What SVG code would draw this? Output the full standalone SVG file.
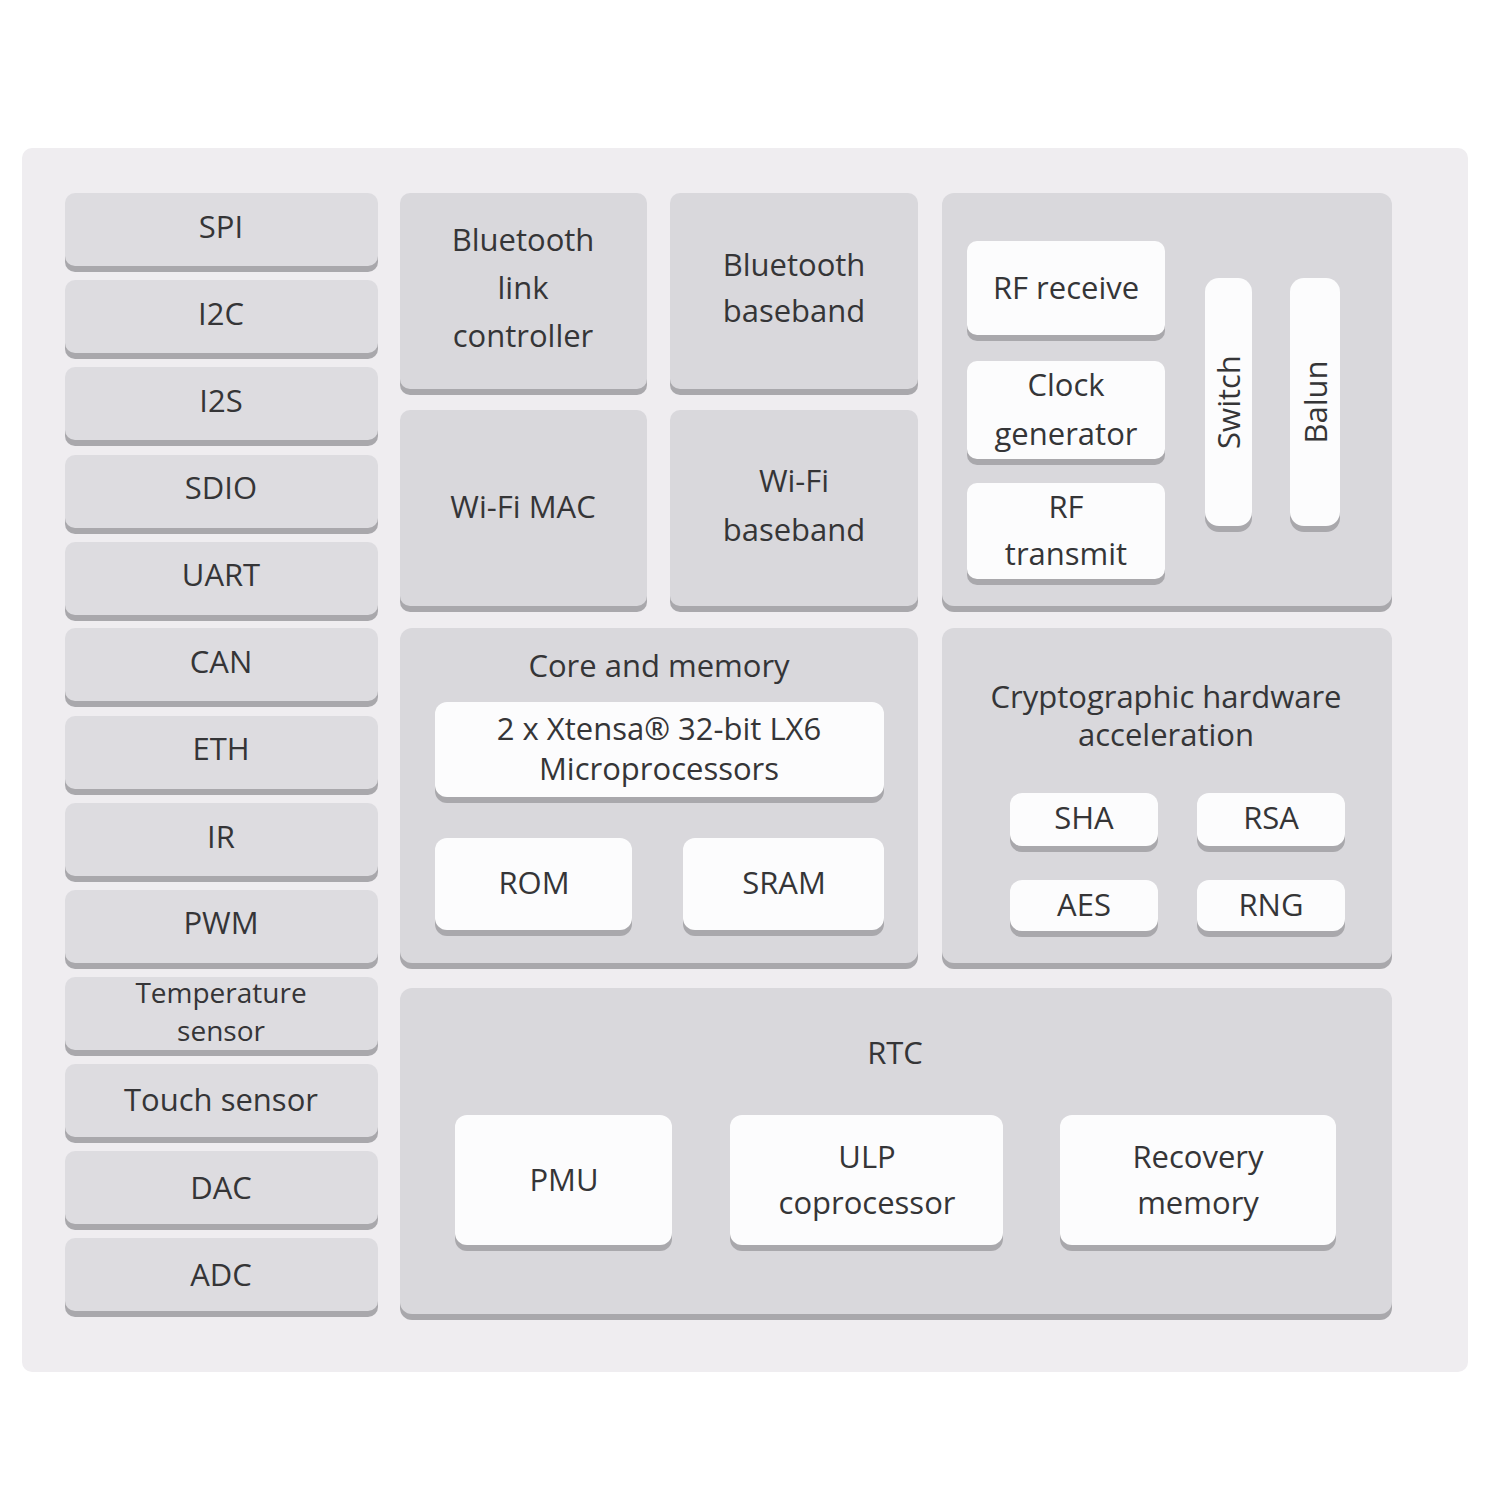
<svg xmlns="http://www.w3.org/2000/svg" width="1500" height="1500" viewBox="0 0 1500 1500">
<style>
.bg{fill:#efedf0}
.sh{fill:#a9a8ac}
.gp{fill:#d9d8dc}
.gl{fill:#dddce0}
.wb{fill:#fcfcfd}
text{font-family:"Open Sans","Noto Sans","DejaVu Sans",sans-serif;fill:#353537;text-anchor:middle;font-size:31px}
.sm{font-size:28px}
</style>
<rect x="0" y="0" width="1500" height="1500" fill="#ffffff"/>
<rect class="bg" x="22" y="148" width="1446" height="1224" rx="10"/>

<g id="left-column">
<g id="spi"><rect class="sh" x="65" y="197" width="313" height="75" rx="10"/><rect class="gl" x="65" y="193" width="313" height="73" rx="10"/><text x="221" y="238">SPI</text></g>
<g id="i2c"><rect class="sh" x="65" y="284" width="313" height="75" rx="10"/><rect class="gl" x="65" y="280" width="313" height="73" rx="10"/><text x="221" y="325">I2C</text></g>
<g id="i2s"><rect class="sh" x="65" y="371" width="313" height="75" rx="10"/><rect class="gl" x="65" y="367" width="313" height="73" rx="10"/><text x="221" y="412">I2S</text></g>
<g id="sdio"><rect class="sh" x="65" y="459" width="313" height="75" rx="10"/><rect class="gl" x="65" y="455" width="313" height="73" rx="10"/><text x="221" y="499">SDIO</text></g>
<g id="uart"><rect class="sh" x="65" y="546" width="313" height="75" rx="10"/><rect class="gl" x="65" y="542" width="313" height="73" rx="10"/><text x="221" y="586">UART</text></g>
<g id="can"><rect class="sh" x="65" y="632" width="313" height="75" rx="10"/><rect class="gl" x="65" y="628" width="313" height="73" rx="10"/><text x="221" y="673">CAN</text></g>
<g id="eth"><rect class="sh" x="65" y="720" width="313" height="75" rx="10"/><rect class="gl" x="65" y="716" width="313" height="73" rx="10"/><text x="221" y="760">ETH</text></g>
<g id="ir"><rect class="sh" x="65" y="807" width="313" height="75" rx="10"/><rect class="gl" x="65" y="803" width="313" height="73" rx="10"/><text x="221" y="848">IR</text></g>
<g id="pwm"><rect class="sh" x="65" y="894" width="313" height="75" rx="10"/><rect class="gl" x="65" y="890" width="313" height="73" rx="10"/><text x="221" y="934">PWM</text></g>
<g id="temp"><rect class="sh" x="65" y="981" width="313" height="75" rx="10"/><rect class="gl" x="65" y="977" width="313" height="73" rx="10"/><text class="sm" x="221" y="1003">Temperature</text><text class="sm" x="221" y="1041">sensor</text></g>
<g id="touch"><rect class="sh" x="65" y="1068" width="313" height="75" rx="10"/><rect class="gl" x="65" y="1064" width="313" height="73" rx="10"/><text x="221" y="1111">Touch sensor</text></g>
<g id="dac"><rect class="sh" x="65" y="1155" width="313" height="75" rx="10"/><rect class="gl" x="65" y="1151" width="313" height="73" rx="10"/><text x="221" y="1199">DAC</text></g>
<g id="adc"><rect class="sh" x="65" y="1242" width="313" height="75" rx="10"/><rect class="gl" x="65" y="1238" width="313" height="73" rx="10"/><text x="221" y="1286">ADC</text></g>
</g>

<g id="bt-link"><rect class="sh" x="400" y="197" width="247" height="198" rx="10"/><rect class="gp" x="400" y="193" width="247" height="196" rx="10"/><text x="523" y="251">Bluetooth</text><text x="523" y="299">link</text><text x="523" y="347">controller</text></g>
<g id="bt-baseband"><rect class="sh" x="670" y="197" width="248" height="198" rx="10"/><rect class="gp" x="670" y="193" width="248" height="196" rx="10"/><text x="794" y="276">Bluetooth</text><text x="794" y="322">baseband</text></g>
<g id="wifi-mac"><rect class="sh" x="400" y="414" width="247" height="198" rx="10"/><rect class="gp" x="400" y="410" width="247" height="196" rx="10"/><text x="523" y="518">Wi-Fi MAC</text></g>
<g id="wifi-baseband"><rect class="sh" x="670" y="414" width="248" height="198" rx="10"/><rect class="gp" x="670" y="410" width="248" height="196" rx="10"/><text x="794" y="492">Wi-Fi</text><text x="794" y="541">baseband</text></g>

<g id="rf">
<rect class="sh" x="942" y="197" width="450" height="415" rx="12"/><rect class="gp" x="942" y="193" width="450" height="413" rx="12"/>
<g id="rf-receive"><rect class="sh" x="967" y="245" width="198" height="96" rx="10"/><rect class="wb" x="967" y="241" width="198" height="94" rx="10"/><text x="1066" y="299">RF receive</text></g>
<g id="clock-gen"><rect class="sh" x="967" y="365" width="198" height="100" rx="10"/><rect class="wb" x="967" y="361" width="198" height="98" rx="10"/><text x="1066" y="396">Clock</text><text x="1066" y="445">generator</text></g>
<g id="rf-transmit"><rect class="sh" x="967" y="487" width="198" height="98" rx="10"/><rect class="wb" x="967" y="483" width="198" height="96" rx="10"/><text x="1066" y="518">RF</text><text x="1066" y="565">transmit</text></g>
<g id="switch"><rect class="sh" x="1205" y="282" width="47" height="250" rx="14"/><rect class="wb" x="1205" y="278" width="47" height="248" rx="14"/><text transform="translate(1240 402) rotate(-90)">Switch</text></g>
<g id="balun"><rect class="sh" x="1290" y="282" width="50" height="250" rx="14"/><rect class="wb" x="1290" y="278" width="50" height="248" rx="14"/><text transform="translate(1327 402) rotate(-90)">Balun</text></g>
</g>

<g id="core">
<rect class="sh" x="400" y="632" width="518" height="337" rx="12"/><rect class="gp" x="400" y="628" width="518" height="335" rx="12"/>
<text x="659" y="677">Core and memory</text>
<g id="xtensa"><rect class="sh" x="435" y="706" width="449" height="97" rx="12"/><rect class="wb" x="435" y="702" width="449" height="95" rx="12"/><text x="659" y="740">2 x Xtensa® 32-bit LX6</text><text x="659" y="780">Microprocessors</text></g>
<g id="rom"><rect class="sh" x="435" y="842" width="197" height="94" rx="12"/><rect class="wb" x="435" y="838" width="197" height="92" rx="12"/><text x="534" y="894">ROM</text></g>
<g id="sram"><rect class="sh" x="683" y="842" width="201" height="94" rx="12"/><rect class="wb" x="683" y="838" width="201" height="92" rx="12"/><text x="784" y="894">SRAM</text></g>
</g>

<g id="crypto">
<rect class="sh" x="942" y="632" width="450" height="337" rx="12"/><rect class="gp" x="942" y="628" width="450" height="335" rx="12"/>
<text x="1166" y="708">Cryptographic hardware</text><text x="1166" y="746">acceleration</text>
<g id="sha"><rect class="sh" x="1010" y="797" width="148" height="55" rx="12"/><rect class="wb" x="1010" y="793" width="148" height="53" rx="12"/><text x="1084" y="829">SHA</text></g>
<g id="rsa"><rect class="sh" x="1197" y="797" width="148" height="55" rx="12"/><rect class="wb" x="1197" y="793" width="148" height="53" rx="12"/><text x="1271" y="829">RSA</text></g>
<g id="aes"><rect class="sh" x="1010" y="884" width="148" height="53" rx="12"/><rect class="wb" x="1010" y="880" width="148" height="51" rx="12"/><text x="1084" y="916">AES</text></g>
<g id="rng"><rect class="sh" x="1197" y="884" width="148" height="53" rx="12"/><rect class="wb" x="1197" y="880" width="148" height="51" rx="12"/><text x="1271" y="916">RNG</text></g>
</g>

<g id="rtc">
<rect class="sh" x="400" y="992" width="992" height="328" rx="12"/><rect class="gp" x="400" y="988" width="992" height="326" rx="12"/>
<text x="895" y="1064">RTC</text>
<g id="pmu"><rect class="sh" x="455" y="1119" width="217" height="132" rx="12"/><rect class="wb" x="455" y="1115" width="217" height="130" rx="12"/><text x="564" y="1191">PMU</text></g>
<g id="ulp"><rect class="sh" x="730" y="1119" width="273" height="132" rx="12"/><rect class="wb" x="730" y="1115" width="273" height="130" rx="12"/><text x="867" y="1168">ULP</text><text x="867" y="1214">coprocessor</text></g>
<g id="recovery"><rect class="sh" x="1060" y="1119" width="276" height="132" rx="12"/><rect class="wb" x="1060" y="1115" width="276" height="130" rx="12"/><text x="1198" y="1168">Recovery</text><text x="1198" y="1214">memory</text></g>
</g>

<g id="connectors"></g>
</svg>
